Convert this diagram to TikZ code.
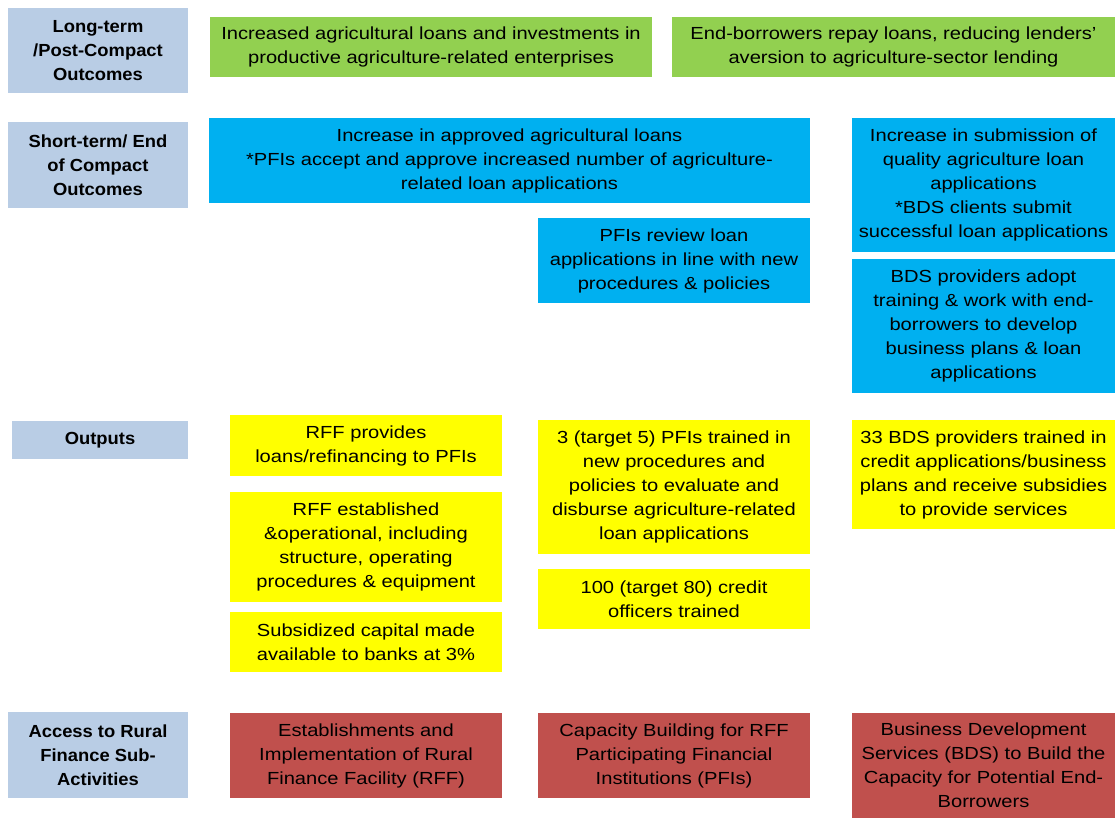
\documentclass[tikz,border=0pt]{standalone}
\usepackage{fontspec}
\setmainfont{Liberation Sans}
\newfontfamily\boxfont{Liberation Sans}[FakeStretch=1.15]
\newfontfamily\labelfont{Liberation Sans}[FakeStretch=1.05]
\definecolor{labelblue}{HTML}{B9CDE5}
\definecolor{outgreen}{HTML}{92D050}
\definecolor{outblue}{HTML}{00B0F0}
\definecolor{outyellow}{HTML}{FFFF00}
\definecolor{actred}{HTML}{C0504D}
\tikzset{
  box/.style={inner sep=0pt, align=center, font=\boxfont\fontsize{17.5}{24}\selectfont},
  rowlabel/.style={box, fill=labelblue, font=\labelfont\fontsize{17.5}{24}\selectfont\bfseries},
  longterm/.style={box, fill=outgreen},
  shortterm/.style={box, fill=outblue},
  output/.style={box, fill=outyellow},
  activity/.style={box, fill=actred}
}
\begin{document}
\begin{tikzpicture}[x=1pt,y=-1pt]
  \useasboundingbox (0,0) rectangle (1118,818);
  % row labels
  \path
    (98,50.5) node[rowlabel, minimum width=180, minimum height=85] (lt) {Long-term\\/Post-Compact\\Outcomes}
    (98,165) node[rowlabel, minimum width=180, minimum height=86] (st) {Short-term/ End\\of Compact\\Outcomes}
    (100,440) node[rowlabel, minimum width=176, minimum height=38] (op) {Outputs}
    (98,755) node[rowlabel, minimum width=180, minimum height=86] (ac) {Access to Rural\\Finance Sub-\\Activities};
  % long-term outcomes
  \path
    (431,47) node[longterm, minimum width=442, minimum height=60] (lt1) {Increased agricultural loans and investments in\\productive agriculture-related enterprises}
    (893.5,47) node[longterm, minimum width=443, minimum height=60] (lt2) {End-borrowers repay loans, reducing lenders’\\aversion to agriculture-sector lending};
  % short-term outcomes
  \path
    (509.5,160.5) node[shortterm, minimum width=601, minimum height=85] (st1) {Increase in approved agricultural loans\\*PFIs accept and approve increased number of agriculture-\\related loan applications}
    (674,260.5) node[shortterm, minimum width=272, minimum height=85] (st2) {PFIs review loan\\applications in line with new\\procedures \& policies}
    (983.5,185) node[shortterm, minimum width=263, minimum height=134] (st3) {Increase in submission of\\quality agriculture loan\\applications\\*BDS clients submit\\successful loan applications}
    (983.5,326) node[shortterm, minimum width=263, minimum height=134] (st4) {BDS providers adopt\\training \& work with end-\\borrowers to develop\\business plans \& loan\\applications};
  % outputs
  \path
    (366,445.5) node[output, minimum width=272, minimum height=61] (op1) {RFF provides\\loans/refinancing to PFIs}
    (366,547) node[output, minimum width=272, minimum height=110] (op2) {RFF established\\\&operational, including\\structure, operating\\procedures \& equipment}
    (366,642) node[output, minimum width=272, minimum height=60] (op3) {Subsidized capital made\\available to banks at 3\%}
    (674,487) node[output, minimum width=272, minimum height=134] (op4) {3 (target 5) PFIs trained in\\new procedures and\\policies to evaluate and\\disburse agriculture-related\\loan applications}
    (674,599) node[output, minimum width=272, minimum height=60] (op5) {100 (target 80) credit\\officers trained}
    (983.5,474.5) node[output, minimum width=263, minimum height=109] (op6) {33 BDS providers trained in\\credit applications/business\\plans and receive subsidies\\to provide services};
  % sub-activities
  \path
    (366,755.5) node[activity, minimum width=272, minimum height=85] (ac1) {Establishments and\\Implementation of Rural\\Finance Facility (RFF)}
    (674,755.5) node[activity, minimum width=272, minimum height=85] (ac2) {Capacity Building for RFF\\Participating Financial\\Institutions (PFIs)}
    (983.5,765.5) node[activity, minimum width=263, minimum height=105] (ac3) {Business Development\\Services (BDS) to Build the\\Capacity for Potential End-\\Borrowers};
\end{tikzpicture}
\end{document}
